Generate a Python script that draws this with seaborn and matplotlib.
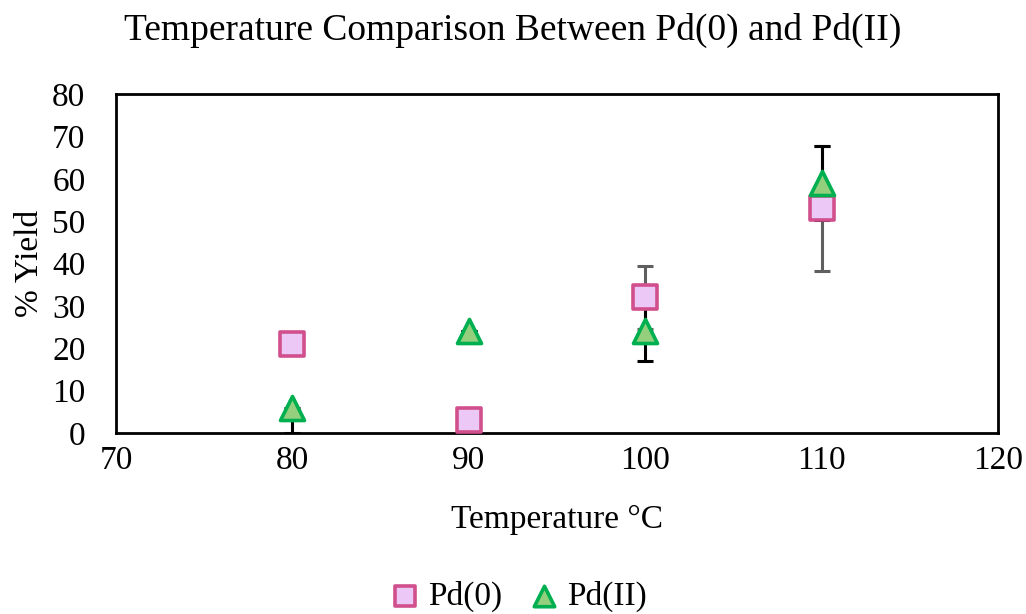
import matplotlib
matplotlib.use("Agg")
import matplotlib.pyplot as plt
import seaborn as sns
import pandas as pd

# ---- data ----
temperatures = [80, 90, 100, 110]
pd0_yield = [21, 3, 32, 53]
pd0_err = [0, 0, 7.4, 14.8]
pd2_yield = [6, 24, 24, 59]
pd2_err_low = [6, 0, 7, 8.7]
pd2_err_high = [0, 0, 7, 8.7]

title = "Temperature Comparison Between Pd(0) and Pd(II)"
xlabel = "Temperature °C"
ylabel = "% Yield"
xticks = [70, 80, 90, 100, 110, 120]
yticks = [0, 10, 20, 30, 40, 50, 60, 70, 80]

sns.set_theme(style="white")
plt.rcParams['font.family'] = ['Liberation Serif', 'DejaVu Serif']

fig = plt.figure(figsize=(10.26, 6.14), dpi=100)
ax = fig.add_axes([0.1131, 0.2948, 0.8596, 0.5521])

df0 = pd.DataFrame({"T": temperatures, "Y": pd0_yield})
df2 = pd.DataFrame({"T": temperatures, "Y": pd2_yield})

# error bars
ax.errorbar(temperatures, pd0_yield, yerr=pd0_err, fmt='none', ecolor='#5f5f5f',
            elinewidth=2.2, capsize=6, capthick=2.2, zorder=2)
ax.errorbar(temperatures, pd2_yield, yerr=[pd2_err_low, pd2_err_high], fmt='none',
            ecolor='black', elinewidth=2.2, capsize=6, capthick=2.2, zorder=2)

sns.scatterplot(data=df0, x="T", y="Y", ax=ax, marker='s', s=280,
                color='#ecc8f6', edgecolor='#d04f8c', linewidth=2.6,
                label="Pd(0)", zorder=3)
sns.scatterplot(data=df2, x="T", y="Y", ax=ax, marker='^', s=300,
                color='#93cf7c', edgecolor='#00b050', linewidth=2.6,
                label="Pd(II)", zorder=3)

ax.set_xlim(70, 120)
ax.set_ylim(0, 80)
ax.set_xticks(xticks)
ax.set_yticks(yticks)
ax.tick_params(axis='both', length=0, labelsize=24, colors='black')
ax.tick_params(axis='y', pad=22)
ax.tick_params(axis='x', pad=9)
for s in ax.spines.values():
    s.set_visible(True)
    s.set_color('black')
    s.set_linewidth(2.0)

ax.set_xlabel(xlabel, fontsize=24, color='black', va='center')
ax.xaxis.set_label_coords(0.5, -0.257)
ax.set_ylabel(ylabel, fontsize=24, color='black', va='center')
ax.yaxis.set_label_coords(-0.0975, 0.5)
fig.text(0.5, 1 - 30 / 614, title, fontsize=27, color='black', ha='center', va='center')

ax.legend_.remove()
handles, labels = ax.get_legend_handles_labels()
fig.legend(handles, labels, loc='center', bbox_to_anchor=(0.505, 0.028), ncol=2,
           frameon=False, fontsize=24, handlelength=0.9, handletextpad=0.25,
           columnspacing=0.8, markerscale=0.85, borderpad=0, labelcolor='black')

fig.savefig("out.png", dpi=100, facecolor='white')
